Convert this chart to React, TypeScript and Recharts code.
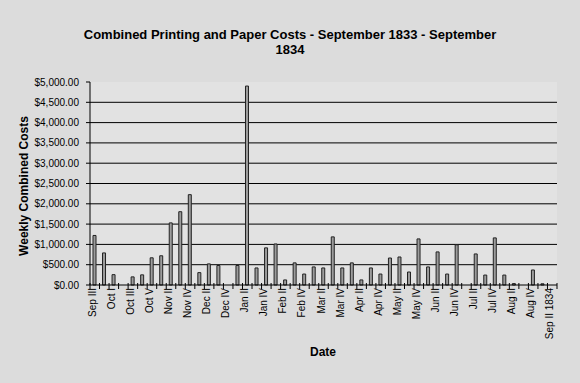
import React from 'react';
import { BarChart, Bar, XAxis, YAxis, CartesianGrid } from 'recharts';

const categories = [
  'Sep III', 'Sep IV', 'Oct I', 'Oct II', 'Oct III', 'Oct IV', 'Oct V',
  'Nov I', 'Nov II', 'Nov III', 'Nov IV',
  'Dec I', 'Dec II', 'Dec III', 'Dec IV',
  'Jan I', 'Jan II', 'Jan III', 'Jan IV',
  'Feb I', 'Feb II', 'Feb III', 'Feb IV',
  'Mar I', 'Mar II', 'Mar III', 'Mar IV',
  'Apr I', 'Apr II', 'Apr III', 'Apr IV',
  'May I', 'May II', 'May III', 'May IV',
  'Jun I', 'Jun II', 'Jun III', 'Jun IV',
  'Jul I', 'Jul II', 'Jul III', 'Jul IV',
  'Aug I', 'Aug II', 'Aug III', 'Aug IV',
  'Sep I', 'Sep II 1834',
];

const weeklyCosts = [
  1220, 790, 255, 0, 200, 250, 670,
  720, 1530, 1805, 2225,
  305, 520, 480, 0,
  480, 4900, 420, 915,
  1010, 125, 545, 270,
  445, 420, 1185, 420,
  545, 125, 420, 270,
  665, 690, 320, 1135,
  445, 815, 270, 990,
  0, 765, 245, 1160,
  245, 35, 0, 370,
  30, 0,
];

const yTicks = [0, 500, 1000, 1500, 2000, 2500, 3000, 3500, 4000, 4500, 5000];
const gridValues = yTicks.filter((v) => v > 0 && v < 5000);

const data = categories.map((week, i) => ({ week, cost: weeklyCosts[i] }));

const W = 580;
const H = 383;
const MARGIN = { top: 82, right: 23, left: 0, bottom: 0 };
const Y_AXIS_W = 90;
const X_AXIS_H = 98;
const PLOT_W = W - MARGIN.left - MARGIN.right - Y_AXIS_W;
const STEP = PLOT_W / categories.length;
const FONT = '"Liberation Sans", Arial, Helvetica, sans-serif';

const money = (v: number) =>
  '$' + v.toLocaleString('en-US', { minimumFractionDigits: 2, maximumFractionDigits: 2 });

const XTick = (props: any) => {
  const { x, y, payload } = props;
  const i = props.index ?? payload?.index ?? 0;
  const half = STEP / 2;
  return (
    <g>
      <line x1={x - half} x2={x - half} y1={y - 2} y2={y + 4} stroke="#000" strokeWidth={1} />
      {i === categories.length - 1 && (
        <line x1={x + half} x2={x + half} y1={y - 2} y2={y + 4} stroke="#000" strokeWidth={1} />
      )}
      {i % 2 === 0 && (
        <text
          x={x + 1}
          y={y + 3}
          transform={`rotate(-90 ${x + 1} ${y + 3})`}
          textAnchor="end"
          fontSize={10}
          fontFamily={FONT}
          fill="#000"
        >
          {payload.value}
        </text>
      )}
    </g>
  );
};

export default function App() {
  return (
    <div
      style={{
        position: 'absolute',
        left: 0,
        top: 0,
        width: W,
        height: H,
        background: '#DCDCDC',
        fontFamily: FONT,
      }}
    >
      <div
        style={{
          position: 'absolute',
          left: 0,
          top: 26.5,
          width: W,
          textAlign: 'center',
          fontSize: 13,
          fontWeight: 'bold',
          lineHeight: '15px',
          color: '#000',
        }}
      >
        <div>Combined Printing and Paper Costs - September 1833 - September</div>
        <div>1834</div>
      </div>
      <BarChart width={W} height={H} data={data} margin={MARGIN} barSize={3}>
        <CartesianGrid
          horizontal={true}
          vertical={false}
          stroke="#000"
          strokeWidth={1}
          fill="#E2E2E2"
          horizontalValues={gridValues}
        />
        <XAxis
          dataKey="week"
          interval={0}
          height={X_AXIS_H}
          tickSize={0}
          tickMargin={0}
          tickLine={false}
          axisLine={{ stroke: '#000', strokeWidth: 1 }}
          tick={<XTick />}
          label={{
            value: 'Date',
            content: () => (
              <text
                x={323}
                y={352}
                textAnchor="middle"
                dominantBaseline="central"
                fontSize={12}
                fontWeight="bold"
                fontFamily={FONT}
                fill="#000"
              >
                Date
              </text>
            ),
          }}
        />
        <YAxis
          width={Y_AXIS_W}
          domain={[0, 5000]}
          ticks={yTicks}
          interval={0}
          tickFormatter={money}
          tickSize={4}
          tickMargin={7}
          tickLine={{ stroke: '#000' }}
          axisLine={{ stroke: '#000', strokeWidth: 1 }}
          tick={{ fontSize: 10, fill: '#000', fontFamily: FONT }}
          label={{
            value: 'Weekly Combined Costs',
            content: () => (
              <text
                x={24}
                y={186}
                transform="rotate(-90 24 186)"
                textAnchor="middle"
                dominantBaseline="central"
                fontSize={12}
                fontWeight="bold"
                fontFamily={FONT}
                fill="#000"
              >
                Weekly Combined Costs
              </text>
            ),
          }}
        />
        <Bar dataKey="cost" fill="#9C9C9C" stroke="#222" strokeWidth={1} isAnimationActive={false} />
      </BarChart>
    </div>
  );
}
